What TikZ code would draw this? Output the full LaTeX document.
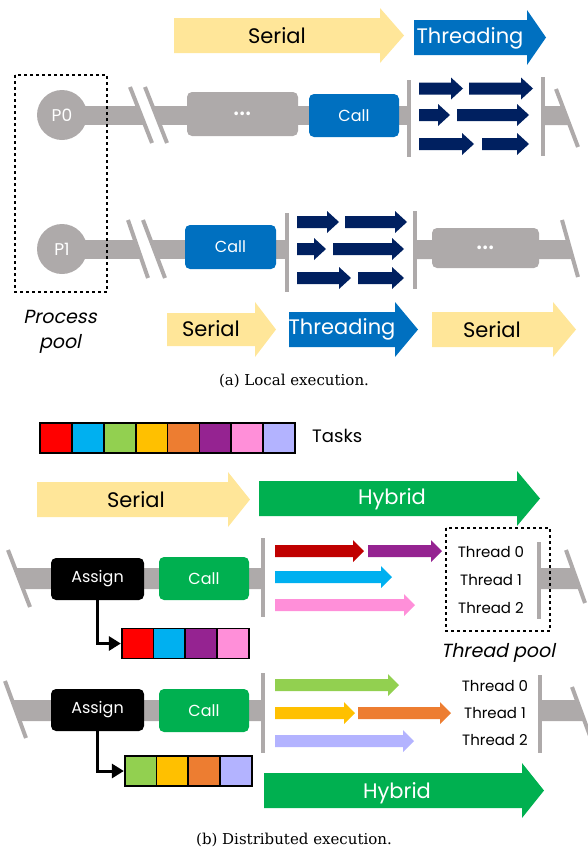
\documentclass[tikz,border=0pt]{standalone}
\usepackage{fontspec}
\newfontfamily\gothic{Poppins}[AutoFakeSlant=0.2]
\newfontfamily\captfont{DejaVu Serif}
\usetikzlibrary{arrows.meta}
\definecolor{bgr}{HTML}{AEAAAA}
\definecolor{sery}{HTML}{FFE699}
\definecolor{thrb}{HTML}{0070C0}
\definecolor{navy}{HTML}{002060}
\definecolor{hybg}{HTML}{00B050}
\definecolor{tred}{HTML}{FF0000}
\definecolor{tcya}{HTML}{00B0F0}
\definecolor{tgrn}{HTML}{92D050}
\definecolor{tyel}{HTML}{FFC000}
\definecolor{tora}{HTML}{ED7D31}
\definecolor{tpur}{HTML}{952391}
\definecolor{tpnk}{HTML}{FF8FD9}
\definecolor{tlav}{HTML}{B3B3FF}
\definecolor{dred}{HTML}{C00000}
\newcommand\fsz[1]{\fontsize{#1}{#1}\selectfont}
% colour, tail x, tip x, mid y, half body, half head, head length
\newcommand\blockarrow[7]{%
    \fill[#1] (#2,{#4-#5}) -- ({#3-#7},{#4-#5}) -- ({#3-#7},{#4-#6}) -- (#3,#4)
        -- ({#3-#7},{#4+#6}) -- ({#3-#7},{#4+#5}) -- (#2,{#4+#5}) -- cycle;}
\tikzset{
    bigl/.style={font=\gothic\fsz{21}},
    rbox/.style={rounded corners=5pt,inner sep=0pt,text=white,font=\gothic\fsz{16}},
    dotsbox/.style={rbox,fill=bgr,font=\gothic\fsz{30}},
    proc/.style={circle,fill=bgr,inner sep=0pt,minimum size=50pt,text=white,font=\gothic\fsz{17}},
    sq/.style={draw,line width=1.8pt,inner sep=0pt,minimum width=32pt,minimum height=30pt},
    thr/.style={font=\gothic\fsz{15}},
    pool/.style={draw,line width=2.5pt,dash pattern=on 3pt off 3pt},
    sepr/.style={bgr,line width=4pt},
    capt/.style={font=\captfont\fsz{15}}
}
\begin{document}
\begin{tikzpicture}[x=1pt,y=-1pt]
    \useasboundingbox (0,0) rectangle (587,854);
    % (a) local execution
    \blockarrow{sery}{174}{404}{35.5}{17.5}{27.5}{24}
    \node[bigl] (ser0) at (277,36) {Serial};
    \blockarrow{thrb}{414}{546}{37.5}{17.5}{27.5}{19}
    \node[bigl,text=white] (thr0) at (470,38) {Threading};
    % process bars
    \fill[bgr] (62,106) rectangle (407,125);
    \fill[bgr] (543,106) -- (562.4,106) -- (569.7,125) -- (543,125) -- cycle;
    \fill[bgr] (62,240) rectangle (287,259);
    \fill[bgr] (415,240) -- (567.6,240) -- (573,259) -- (415,259) -- cycle;
    \fill[white] (130,87) -- (145,87) -- (167,143) -- (152,143) -- cycle;
    \fill[white] (128,220) -- (143,220) -- (165,278) -- (148,278) -- cycle;
    \draw[sepr] (130,87) -- (152,143) (145,87) -- (167,143);
    \draw[sepr] (128,220) -- (148,278) (143,220) -- (165,278);
    \draw[sepr] (556,89) -- (578,147);
    \draw[sepr] (562,220) -- (578,277);
    \draw[sepr] (409,80) -- (409,157) (543,77) -- (543,156);
    \draw[sepr] (287,213) -- (287,292) (415,211) -- (415,289);
    \node[proc] (p0) at (62,115) {P0};
    \node[proc] (p1) at (62,249) {P1};
    \node[dotsbox,minimum width=111pt,minimum height=44pt] (dots0) at (242.5,114) {...};
    \node[rbox,fill=thrb,minimum width=90pt,minimum height=43pt] (call0) at (354,115.5) {Call};
    \node[rbox,fill=thrb,minimum width=91pt,minimum height=44pt] (call1) at (230.5,247) {Call};
    \node[dotsbox,minimum width=107pt,minimum height=40pt] (dots1) at (485.5,248) {...};
    \foreach \a/\b/\y in {419/463/88.5,469/533/88.5,419/450/115,457/529/115,419/474/144,482/529/144,
        297/339/222,345/407/222,297/326/249,333/404/249,297/351/278,358/404/278}
        \blockarrow{navy}{\a}{\b}{\y}{6}{11}{12};
    \draw[pool] (15,75) rectangle (107,292);
    \node[font=\gothic\itshape\fsz{19},align=center,inner sep=0pt] (ppool) at (60,332)
        {Process\\[6pt]pool};
    \blockarrow{sery}{167}{276}{329.5}{16.5}{27.5}{21}
    \node[bigl] (ser1) at (211,329) {Serial};
    \blockarrow{thrb}{289}{418}{329.5}{17.5}{27.5}{23}
    \node[bigl,text=white] (thr1) at (342,329) {Threading};
    \blockarrow{sery}{432}{576}{329.5}{17.5}{27.5}{23}
    \node[bigl] (ser2) at (492,330) {Serial};
    \node[capt] (capa) at (294,381) {(a) Local execution.};
    % (b) distributed execution
    \foreach \c [count=\i] in {tred,tcya,tgrn,tyel,tora,tpur,tpnk,tlav}
        \node[sq,fill=\c] (t\i) at ({24+31.9*\i},438) {};
    \node[font=\gothic\fsz{18},anchor=west,inner sep=0pt] (tasks) at (312,436) {Tasks};
    \blockarrow{sery}{37}{250}{499.5}{17.5}{27.5}{22}
    \node[bigl] (ser3) at (136,500) {Serial};
    \blockarrow{hybg}{259}{540}{498.5}{17.5}{27.5}{23}
    \node[bigl,text=white] (hyb0) at (392,499) {Hybrid};
    \fill[bgr] (14.9,568) -- (263,568) -- (263,589) -- (23,589) -- cycle;
    \fill[bgr] (539,568) -- (572.5,568) -- (580,589) -- (539,589) -- cycle;
    \fill[bgr] (12,700) -- (263,700) -- (263,721) -- (19.7,721) -- cycle;
    \fill[bgr] (540,700) -- (576.6,700) -- (584,721) -- (540,721) -- cycle;
    \draw[sepr] (8,550) -- (30,607) (566,550) -- (585,603);
    \draw[sepr] (5,681) -- (26,738) (572,687) -- (593,744);
    \draw[sepr] (263,538) -- (263,617) (539,542) -- (539,619);
    \draw[sepr] (263,673) -- (263,753) (540,675) -- (540,753);
    \node[rbox,fill=black,minimum width=93pt,minimum height=42pt] (asg0) at (97.5,579) {Assign};
    \node[rbox,fill=hybg,minimum width=90pt,minimum height=43pt] (call2) at (204,578.5) {Call};
    \node[rbox,fill=black,minimum width=93pt,minimum height=42pt] (asg1) at (97.5,710) {Assign};
    \node[rbox,fill=hybg,minimum width=90pt,minimum height=43pt] (call3) at (204,710.5) {Call};
    \foreach \c/\a/\b/\y in {dred/275/364/551,tpur/368/442/551,tcya/275/392/577,tpnk/275/415/605,
        tgrn/275/399/685,tyel/275/355/713,tora/358/451/713,tlav/275/414/741}
        \blockarrow{\c}{\a}{\b}{\y}{6}{11}{11};
    \foreach \y [count=\i from 0] in {552,580,608}
        \node[thr] (th\i) at (491,\y) {Thread \i};
    \foreach \y [count=\i from 0] in {686,713,740}
        \node[thr] (tk\i) at (495,\y) {Thread \i};
    \draw[pool] (446,528) rectangle (550,631);
    \node[font=\gothic\itshape\fsz{19}] (tpool) at (498,653) {Thread pool};
    \foreach \c [count=\i] in {tred,tcya,tpur,tpnk}
        \node[sq,fill=\c] (qa\i) at ({106+31.75*\i},643.5) {};
    \foreach \c [count=\i] in {tgrn,tyel,tora,tlav}
        \node[sq,fill=\c] (qb\i) at ({109+31.75*\i},771) {};
    \draw[line width=3pt,-{Triangle[length=12pt,width=14pt]}] (asg0.south) |- (qa1.west);
    \draw[line width=3pt,-{Triangle[length=12pt,width=14pt]}] (asg1.south) |- (qb1.west);
    \blockarrow{hybg}{264}{544}{790.5}{17.5}{27.5}{22}
    \node[bigl,text=white] (hyb1) at (397,793) {Hybrid};
    \node[capt] (capb) at (294,840) {(b) Distributed execution.};
\end{tikzpicture}
\end{document}
